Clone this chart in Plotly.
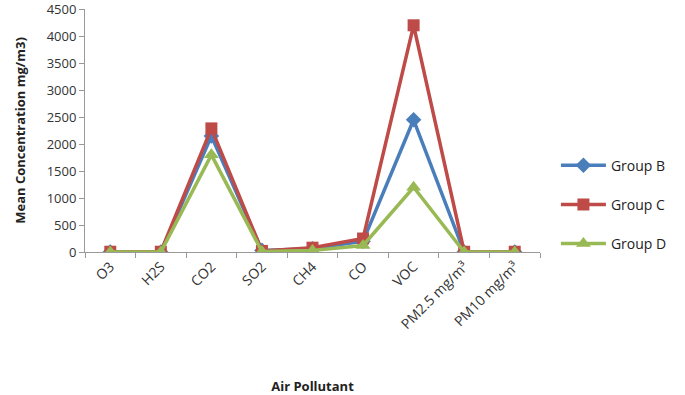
import plotly.graph_objects as go

categories = ["O3", "H2S", "CO2", "SO2", "CH4", "CO", "VOC", "PM2.5 mg/m³", "PM10 mg/m³"]
group_b = [0, 0, 2150, 30, 60, 200, 2450, 0, 0]
group_c = [5, 5, 2290, 20, 80, 250, 4200, 5, 5]
group_d = [0, 0, 1800, 10, 30, 120, 1200, 0, 0]
y_ticks = [0, 500, 1000, 1500, 2000, 2500, 3000, 3500, 4000, 4500]

series = [
    ("Group B", group_b, "#4A7EBB", "diamond", 12),
    ("Group C", group_c, "#BE4B48", "square", 12),
    ("Group D", group_d, "#98B954", "triangle-up", 13),
]

fig = go.Figure()
for name, vals, color, sym, size in series:
    fig.add_trace(go.Scatter(
        x=categories, y=vals, name=name, mode="lines+markers",
        line=dict(color=color, width=3.5),
        marker=dict(symbol=sym, size=size, color=color),
        legendgroup=name,
    ))

font = "Open Sans, Liberation Sans, sans-serif"
fig.update_layout(
    width=685, height=395,
    margin=dict(l=85, r=145, t=9, b=143, autoexpand=False),
    paper_bgcolor="white", plot_bgcolor="white",
    font=dict(family=font, size=12, color="#333333"),
    showlegend=True,
    legend=dict(x=1.035, y=0.195, xanchor="left", yanchor="middle",
                tracegroupgap=18, font=dict(size=14, color="#222222"),
                itemwidth=45),
    xaxis=dict(
        type="category", tickson="boundaries", ticks="outside", ticklen=5,
        tickcolor="#999999", showline=True, linecolor="#999999", linewidth=1,
        showgrid=False, tickangle=-45, tickfont=dict(size=14, color="#333333"),
        title=dict(text="<b>Air Pollutant</b>", font=dict(size=13, color="#222222"), standoff=50),
        range=[-0.5, 8.5], automargin=False,
    ),
    yaxis=dict(
        range=[0, 4502], tickvals=y_ticks, ticks="outside", ticklen=5,
        tickcolor="#999999", showline=True, linecolor="#999999", linewidth=1,
        showgrid=False, zeroline=False, tickfont=dict(size=13, color="#333333"),
        ticklabeloverflow="allow",
        title=dict(text="<b>Mean Concentration mg/m3)</b>", font=dict(size=13, color="#222222"), standoff=18),
        automargin=False,
    ),
)

fig.write_html("out.html", config={"displayModeBar": False},
               post_script="document.body.style.margin='0';")
